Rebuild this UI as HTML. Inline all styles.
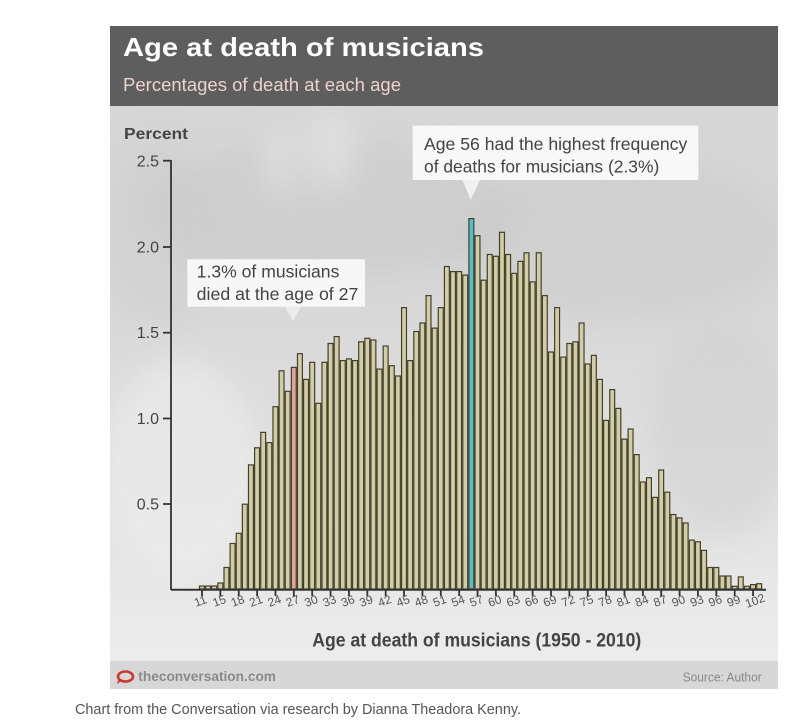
<!DOCTYPE html>
<html>
<head>
<meta charset="utf-8">
<style>
  html, body { margin: 0; padding: 0; background: #ffffff; }
  body { width: 803px; height: 726px; overflow: hidden; }
  svg { display: block; }
  text { font-family: "Liberation Sans", Arial, sans-serif; }
</style>
</head>
<body>
<svg width="803" height="726" viewBox="0 0 803 726" xmlns="http://www.w3.org/2000/svg">
  <defs>
    <linearGradient id="bg" x1="0" y1="0" x2="0" y2="1">
      <stop offset="0" stop-color="#d6d6d6"/>
      <stop offset="0.35" stop-color="#d8d8d8"/>
      <stop offset="0.65" stop-color="#e0e0e0"/>
      <stop offset="0.87" stop-color="#e8e8e8"/>
      <stop offset="1" stop-color="#ececec"/>
    </linearGradient>
    <filter id="blur" x="-50%" y="-50%" width="200%" height="200%">
      <feGaussianBlur stdDeviation="14"/>
    </filter>
    <clipPath id="chartclip"><rect x="110" y="106" width="668" height="555"/></clipPath>
  </defs>

  <!-- chart body background -->
  <rect x="110" y="106" width="668" height="555" fill="url(#bg)"/>
  <g clip-path="url(#chartclip)" filter="url(#blur)">
    <ellipse cx="330" cy="210" rx="190" ry="70" fill="#c8c8c8" opacity="0.55"/>
    <ellipse cx="620" cy="240" rx="170" ry="80" fill="#c9c9c9" opacity="0.5"/>
    <ellipse cx="720" cy="430" rx="70" ry="110" fill="#cfcfcf" opacity="0.5"/>
    <ellipse cx="160" cy="230" rx="60" ry="90" fill="#cdcdcd" opacity="0.45"/>
    <ellipse cx="180" cy="470" rx="80" ry="110" fill="#ebebeb" opacity="0.7"/>
    <ellipse cx="330" cy="150" rx="25" ry="40" fill="#e6e6e6" opacity="0.6"/>
    <ellipse cx="280" cy="160" rx="15" ry="35" fill="#e6e6e6" opacity="0.6"/>
  </g>

  <!-- header -->
  <rect x="110" y="26" width="668" height="80" fill="#5e5e5e"/>
  <text x="123" y="56" font-size="26" font-weight="bold" fill="#ffffff" textLength="361" lengthAdjust="spacingAndGlyphs">Age at death of musicians</text>
  <text x="123" y="91" font-size="18" fill="#ecd2cd" textLength="278" lengthAdjust="spacingAndGlyphs">Percentages of death at each age</text>

  <!-- footer -->
  <rect x="110" y="661" width="668" height="28" fill="#d7d7d7"/>
  <ellipse cx="125.5" cy="676.5" rx="7.5" ry="5" fill="none" stroke="#c93a30" stroke-width="2.6"/>
  <path d="M119 679 L116.5 684 L122.5 680.5 Z" fill="#c93a30"/>
  <text x="138.3" y="681" font-size="14" font-weight="bold" fill="#8a8a8a" textLength="137.7" lengthAdjust="spacingAndGlyphs">theconversation.com</text>
  <text x="682.7" y="681.5" font-size="13" fill="#888888" textLength="79" lengthAdjust="spacingAndGlyphs">Source: Author</text>

  <!-- caption -->
  <text x="75" y="714" font-size="15" fill="#555555" textLength="446" lengthAdjust="spacingAndGlyphs">Chart from the Conversation via research by Dianna Theadora Kenny.</text>

  <!-- y axis -->
  <text x="124" y="139" font-size="16" font-weight="bold" fill="#444444" textLength="64" lengthAdjust="spacingAndGlyphs">Percent</text>
  <g font-size="16" fill="#444444" text-anchor="end">
    <text x="159" y="166.5">2.5</text>
    <text x="159" y="252.5">2.0</text>
    <text x="159" y="338">1.5</text>
    <text x="159" y="424">1.0</text>
    <text x="159" y="509.5">0.5</text>
  </g>
  <g stroke="#333333" stroke-width="1.8">
    <line x1="171" y1="160" x2="171" y2="590"/>
    <line x1="163" y1="160.7" x2="171" y2="160.7"/>
    <line x1="163" y1="247" x2="171" y2="247"/>
    <line x1="163" y1="332.7" x2="171" y2="332.7"/>
    <line x1="163" y1="418.5" x2="171" y2="418.5"/>
    <line x1="163" y1="504" x2="171" y2="504"/>
  </g>

  <!-- bars -->
  <g transform="translate(0,589) scale(1,-1)" fill="#d2cea3" stroke="#433f30" stroke-width="1.2">
    <rect x="199.51" y="0" width="4.9" height="3"/>
    <rect x="205.63" y="0" width="4.9" height="3"/>
    <rect x="211.75" y="0" width="4.9" height="3"/>
    <rect x="217.88" y="0" width="4.9" height="6"/>
    <rect x="224.00" y="0" width="4.9" height="21.5"/>
    <rect x="230.12" y="0" width="4.9" height="45.5"/>
    <rect x="236.25" y="0" width="4.9" height="55.7"/>
    <rect x="242.37" y="0" width="4.9" height="84.8"/>
    <rect x="248.49" y="0" width="4.9" height="124.1"/>
    <rect x="254.61" y="0" width="4.9" height="141.2"/>
    <rect x="260.74" y="0" width="4.9" height="156.6"/>
    <rect x="266.86" y="0" width="4.9" height="146.4"/>
    <rect x="272.98" y="0" width="4.9" height="182.3"/>
    <rect x="279.11" y="0" width="4.9" height="218.2"/>
    <rect x="285.23" y="0" width="4.9" height="197.7"/>
    <rect x="291.35" y="0" width="4.9" height="221.6" fill="#e3a39c"/>
    <rect x="297.47" y="0" width="4.9" height="235.3"/>
    <rect x="303.60" y="0" width="4.9" height="209.6"/>
    <rect x="309.72" y="0" width="4.9" height="226.7"/>
    <rect x="315.84" y="0" width="4.9" height="185.7"/>
    <rect x="321.97" y="0" width="4.9" height="226.7"/>
    <rect x="328.09" y="0" width="4.9" height="245.5"/>
    <rect x="334.21" y="0" width="4.9" height="252.4"/>
    <rect x="340.34" y="0" width="4.9" height="228.4"/>
    <rect x="346.46" y="0" width="4.9" height="230.1"/>
    <rect x="352.58" y="0" width="4.9" height="228.4"/>
    <rect x="358.70" y="0" width="4.9" height="247.2"/>
    <rect x="364.83" y="0" width="4.9" height="250.7"/>
    <rect x="370.95" y="0" width="4.9" height="249"/>
    <rect x="377.07" y="0" width="4.9" height="219.9"/>
    <rect x="383.20" y="0" width="4.9" height="243"/>
    <rect x="389.32" y="0" width="4.9" height="223.3"/>
    <rect x="395.44" y="0" width="4.9" height="213"/>
    <rect x="401.57" y="0" width="4.9" height="281.4"/>
    <rect x="407.69" y="0" width="4.9" height="228.4"/>
    <rect x="413.81" y="0" width="4.9" height="257.5"/>
    <rect x="419.93" y="0" width="4.9" height="266"/>
    <rect x="426.06" y="0" width="4.9" height="293.4"/>
    <rect x="432.18" y="0" width="4.9" height="260.9"/>
    <rect x="438.30" y="0" width="4.9" height="281.4"/>
    <rect x="444.43" y="0" width="4.9" height="322.5"/>
    <rect x="450.55" y="0" width="4.9" height="317.4"/>
    <rect x="456.67" y="0" width="4.9" height="317.4"/>
    <rect x="462.80" y="0" width="4.9" height="313.9"/>
    <rect x="468.92" y="0" width="4.9" height="370.4" fill="#52c0c9"/>
    <rect x="475.04" y="0" width="4.9" height="353.3"/>
    <rect x="481.16" y="0" width="4.9" height="308.8"/>
    <rect x="487.29" y="0" width="4.9" height="334.5"/>
    <rect x="493.41" y="0" width="4.9" height="332.7"/>
    <rect x="499.53" y="0" width="4.9" height="356.7"/>
    <rect x="505.66" y="0" width="4.9" height="334.5"/>
    <rect x="511.78" y="0" width="4.9" height="315.6"/>
    <rect x="517.90" y="0" width="4.9" height="327.6"/>
    <rect x="524.03" y="0" width="4.9" height="336.2"/>
    <rect x="530.15" y="0" width="4.9" height="307.1"/>
    <rect x="536.27" y="0" width="4.9" height="336.2"/>
    <rect x="542.39" y="0" width="4.9" height="293.4"/>
    <rect x="548.52" y="0" width="4.9" height="237"/>
    <rect x="554.64" y="0" width="4.9" height="281.4"/>
    <rect x="560.76" y="0" width="4.9" height="231.9"/>
    <rect x="566.89" y="0" width="4.9" height="245.5"/>
    <rect x="573.01" y="0" width="4.9" height="247.2"/>
    <rect x="579.13" y="0" width="4.9" height="266"/>
    <rect x="585.26" y="0" width="4.9" height="225"/>
    <rect x="591.38" y="0" width="4.9" height="233.6"/>
    <rect x="597.50" y="0" width="4.9" height="209.6"/>
    <rect x="603.62" y="0" width="4.9" height="168.6"/>
    <rect x="609.75" y="0" width="4.9" height="199.4"/>
    <rect x="615.87" y="0" width="4.9" height="180.6"/>
    <rect x="621.99" y="0" width="4.9" height="149.8"/>
    <rect x="628.12" y="0" width="4.9" height="160"/>
    <rect x="634.24" y="0" width="4.9" height="134.4"/>
    <rect x="640.36" y="0" width="4.9" height="107"/>
    <rect x="646.49" y="0" width="4.9" height="111.3"/>
    <rect x="652.61" y="0" width="4.9" height="91.6"/>
    <rect x="658.73" y="0" width="4.9" height="119"/>
    <rect x="664.85" y="0" width="4.9" height="96.8"/>
    <rect x="670.98" y="0" width="4.9" height="74.5"/>
    <rect x="677.10" y="0" width="4.9" height="71.1"/>
    <rect x="683.22" y="0" width="4.9" height="66"/>
    <rect x="689.35" y="0" width="4.9" height="48.9"/>
    <rect x="695.47" y="0" width="4.9" height="47.2"/>
    <rect x="701.59" y="0" width="4.9" height="38.6"/>
    <rect x="707.72" y="0" width="4.9" height="21.5"/>
    <rect x="713.84" y="0" width="4.9" height="21.5"/>
    <rect x="719.96" y="0" width="4.9" height="13"/>
    <rect x="726.08" y="0" width="4.9" height="13"/>
    <rect x="732.21" y="0" width="4.9" height="2.7"/>
    <rect x="738.33" y="0" width="4.9" height="12.1"/>
    <rect x="744.45" y="0" width="4.9" height="2.7"/>
    <rect x="750.58" y="0" width="4.9" height="4.4"/>
    <rect x="756.70" y="0" width="4.9" height="5.3"/>
  </g>

  <!-- x axis -->
  <line x1="171" y1="589.8" x2="766" y2="589.8" stroke="#333333" stroke-width="2"/>
  <g stroke="#333333" stroke-width="1.8">
    <line x1="202" y1="590" x2="202" y2="596"/>
    <line x1="220.37" y1="590" x2="220.37" y2="596"/>
    <line x1="238.74" y1="590" x2="238.74" y2="596"/>
    <line x1="257.11" y1="590" x2="257.11" y2="596"/>
    <line x1="275.48" y1="590" x2="275.48" y2="596"/>
    <line x1="293.85" y1="590" x2="293.85" y2="596"/>
    <line x1="312.21" y1="590" x2="312.21" y2="596"/>
    <line x1="330.58" y1="590" x2="330.58" y2="596"/>
    <line x1="348.95" y1="590" x2="348.95" y2="596"/>
    <line x1="367.32" y1="590" x2="367.32" y2="596"/>
    <line x1="385.69" y1="590" x2="385.69" y2="596"/>
    <line x1="404.06" y1="590" x2="404.06" y2="596"/>
    <line x1="422.43" y1="590" x2="422.43" y2="596"/>
    <line x1="440.80" y1="590" x2="440.80" y2="596"/>
    <line x1="459.17" y1="590" x2="459.17" y2="596"/>
    <line x1="477.54" y1="590" x2="477.54" y2="596"/>
    <line x1="495.90" y1="590" x2="495.90" y2="596"/>
    <line x1="514.27" y1="590" x2="514.27" y2="596"/>
    <line x1="532.64" y1="590" x2="532.64" y2="596"/>
    <line x1="551.01" y1="590" x2="551.01" y2="596"/>
    <line x1="569.38" y1="590" x2="569.38" y2="596"/>
    <line x1="587.75" y1="590" x2="587.75" y2="596"/>
    <line x1="606.12" y1="590" x2="606.12" y2="596"/>
    <line x1="624.49" y1="590" x2="624.49" y2="596"/>
    <line x1="642.86" y1="590" x2="642.86" y2="596"/>
    <line x1="661.23" y1="590" x2="661.23" y2="596"/>
    <line x1="679.59" y1="590" x2="679.59" y2="596"/>
    <line x1="697.96" y1="590" x2="697.96" y2="596"/>
    <line x1="716.33" y1="590" x2="716.33" y2="596"/>
    <line x1="734.70" y1="590" x2="734.70" y2="596"/>
    <line x1="753.07" y1="590" x2="753.07" y2="596"/>
  </g>
  <g font-size="12" fill="#555555">
    <text transform="translate(196,607) rotate(-20)">11</text>
    <text transform="translate(214.4,607) rotate(-20)">15</text>
    <text transform="translate(232.7,607) rotate(-20)">18</text>
    <text transform="translate(251.1,607) rotate(-20)">21</text>
    <text transform="translate(269.5,607) rotate(-20)">24</text>
    <text transform="translate(287.8,607) rotate(-20)">27</text>
    <text transform="translate(306.2,607) rotate(-20)">30</text>
    <text transform="translate(324.6,607) rotate(-20)">33</text>
    <text transform="translate(343,607) rotate(-20)">36</text>
    <text transform="translate(361.3,607) rotate(-20)">39</text>
    <text transform="translate(379.7,607) rotate(-20)">42</text>
    <text transform="translate(398.1,607) rotate(-20)">45</text>
    <text transform="translate(416.4,607) rotate(-20)">48</text>
    <text transform="translate(434.8,607) rotate(-20)">51</text>
    <text transform="translate(453.2,607) rotate(-20)">54</text>
    <text transform="translate(471.5,607) rotate(-20)">57</text>
    <text transform="translate(489.9,607) rotate(-20)">60</text>
    <text transform="translate(508.3,607) rotate(-20)">63</text>
    <text transform="translate(526.6,607) rotate(-20)">66</text>
    <text transform="translate(545,607) rotate(-20)">69</text>
    <text transform="translate(563.4,607) rotate(-20)">72</text>
    <text transform="translate(581.7,607) rotate(-20)">75</text>
    <text transform="translate(600.1,607) rotate(-20)">78</text>
    <text transform="translate(618.5,607) rotate(-20)">81</text>
    <text transform="translate(636.9,607) rotate(-20)">84</text>
    <text transform="translate(655.2,607) rotate(-20)">87</text>
    <text transform="translate(673.6,607) rotate(-20)">90</text>
    <text transform="translate(692,607) rotate(-20)">93</text>
    <text transform="translate(710.3,607) rotate(-20)">96</text>
    <text transform="translate(728.7,607) rotate(-20)">99</text>
    <text transform="translate(747,608) rotate(-20)">102</text>
  </g>
  <text x="312.3" y="646.7" font-size="19" font-weight="bold" fill="#444444" textLength="329" lengthAdjust="spacingAndGlyphs">Age at death of musicians (1950 - 2010)</text>

  <!-- annotation 1 -->
  <rect x="187.3" y="259.3" width="177.7" height="47.4" fill="#fafafa" opacity="0.92"/>
  <path d="M285 306.7 L301 306.7 L293 321 Z" fill="#f4f4f4" opacity="0.7"/>
  <text x="196.7" y="277.7" font-size="17.5" fill="#444444" textLength="142.7" lengthAdjust="spacingAndGlyphs">1.3% of musicians</text>
  <text x="196.7" y="300" font-size="17.5" fill="#444444" textLength="161.7" lengthAdjust="spacingAndGlyphs">died at the age of 27</text>

  <!-- annotation 2 -->
  <rect x="412.7" y="125.7" width="285.6" height="54.3" fill="#fafafa" opacity="0.95"/>
  <path d="M462.5 180 L480 180 L470.7 200 Z" fill="#f6f6f6" opacity="0.85"/>
  <text x="424" y="150" font-size="17.5" fill="#444444" textLength="263.3" lengthAdjust="spacingAndGlyphs">Age 56 had the highest frequency</text>
  <text x="424" y="172.3" font-size="17.5" fill="#444444" textLength="235.3" lengthAdjust="spacingAndGlyphs">of deaths for musicians (2.3%)</text>
</svg>
</body>
</html>
